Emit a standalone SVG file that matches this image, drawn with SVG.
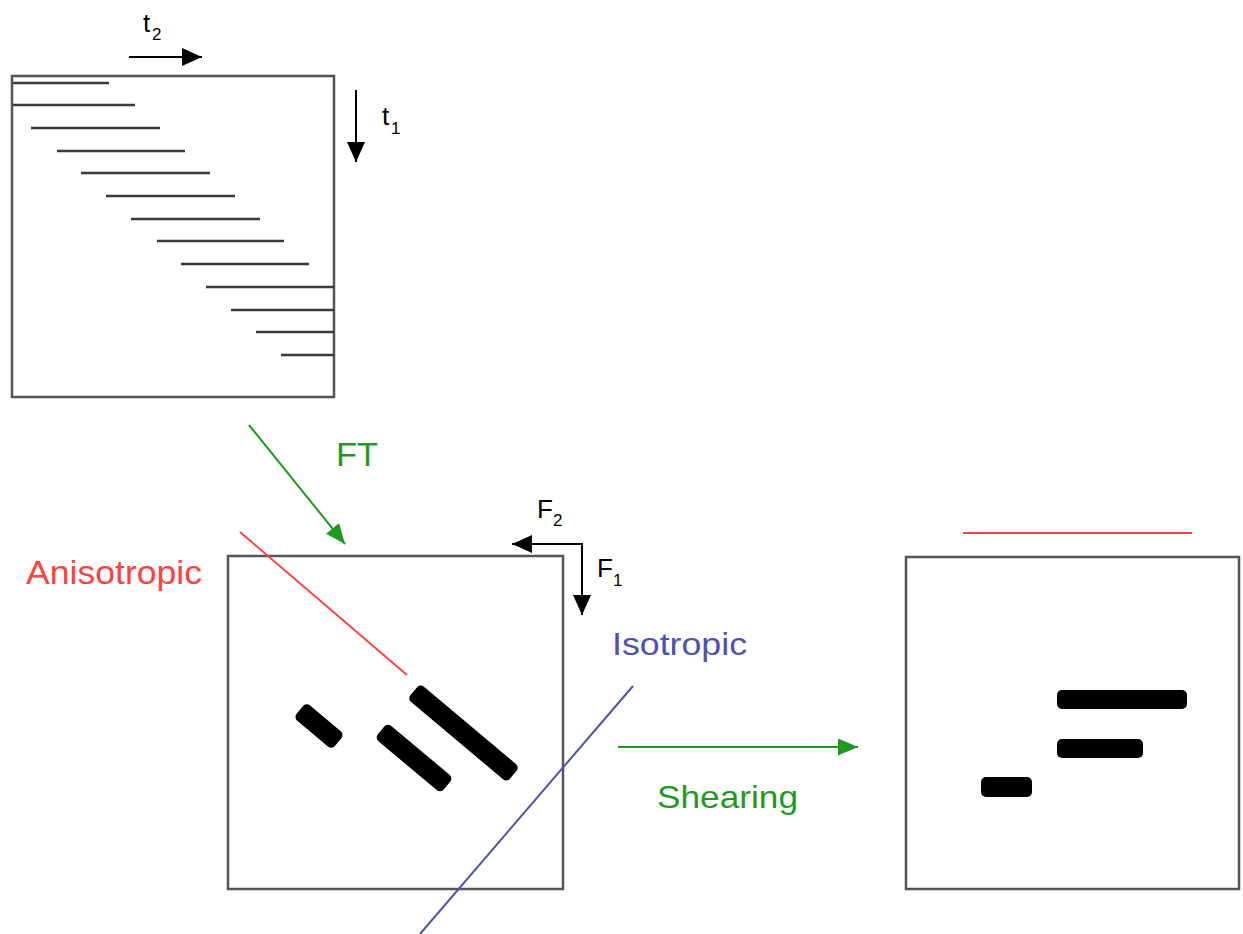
<svg xmlns="http://www.w3.org/2000/svg" width="1243" height="934" viewBox="0 0 1243 934">
<defs>
<style>
.box{fill:none;stroke:#555;stroke-width:2.5}
.hl{stroke:#3a3a3a;stroke-width:2.3}
.blk{stroke:#000;stroke-width:2;fill:none}
.grn{stroke:#1f9a1f;stroke-width:2;fill:none}
.bar{fill:#000}
text{font-family:"Liberation Sans",Arial,sans-serif}
.lbl{font-size:26px;fill:#000}
.sub{font-size:17px;fill:#000}
</style>
<marker id="ab" markerUnits="userSpaceOnUse" markerWidth="20" markerHeight="18" refX="20" refY="9" orient="auto"><path d="M0,0 L20,9 L0,18 z" fill="#000"/></marker>
<marker id="ag" markerUnits="userSpaceOnUse" markerWidth="20" markerHeight="17" refX="20" refY="8.5" orient="auto"><path d="M0,0 L20,8.5 L0,17 z" fill="#1f9a1f"/></marker>
</defs>
<rect width="1243" height="934" fill="#fff"/>

<g id="time-domain">
<rect class="box" x="12" y="76" width="322" height="321"/>
<line class="hl" x1="13" y1="83" x2="109" y2="83"/>
<line class="hl" x1="13" y1="105" x2="135" y2="105"/>
<line class="hl" x1="31" y1="128" x2="160" y2="128"/>
<line class="hl" x1="57" y1="151" x2="185" y2="151"/>
<line class="hl" x1="81" y1="173" x2="210" y2="173"/>
<line class="hl" x1="106" y1="196" x2="235" y2="196"/>
<line class="hl" x1="131" y1="219" x2="260" y2="219"/>
<line class="hl" x1="157" y1="241" x2="284" y2="241"/>
<line class="hl" x1="181" y1="264" x2="309" y2="264"/>
<line class="hl" x1="206" y1="287" x2="334" y2="287"/>
<line class="hl" x1="231" y1="310" x2="334" y2="310"/>
<line class="hl" x1="256" y1="332" x2="334" y2="332"/>
<line class="hl" x1="281" y1="355" x2="334" y2="355"/>
<line class="blk" x1="129" y1="57" x2="202" y2="57" marker-end="url(#ab)"/>
<line class="blk" x1="356" y1="90" x2="356" y2="162" marker-end="url(#ab)"/>
<text class="lbl" x="143" y="32">t</text><text class="sub" x="152" y="40">2</text>
<text class="lbl" x="382" y="125">t</text><text class="sub" x="391" y="134">1</text>
</g>

<g id="freq-domain">
<rect class="box" x="228" y="556" width="335" height="333"/>
<line x1="240" y1="532" x2="407" y2="675" stroke="#ff4040" stroke-width="2"/>
<rect class="bar" x="-25" y="-10" width="50" height="20" rx="5" transform="translate(319,726) rotate(40)"/>
<rect class="bar" x="-43" y="-10" width="86" height="20" rx="5" transform="translate(414,758) rotate(40)"/>
<rect class="bar" x="-65" y="-10" width="130" height="20" rx="5" transform="translate(463.5,733) rotate(40)"/>
<line x1="633" y1="686" x2="420" y2="934" stroke="#5050b0" stroke-width="2"/>
<line class="blk" x1="583" y1="544" x2="512" y2="544" marker-end="url(#ab)"/>
<line class="blk" x1="582" y1="543" x2="582" y2="615" marker-end="url(#ab)"/>
<text class="lbl" x="537" y="518">F</text><text class="sub" x="553" y="526">2</text>
<text class="lbl" x="597" y="577">F</text><text class="sub" x="613" y="586">1</text>
<text x="26" y="584" font-size="34" textLength="176" lengthAdjust="spacingAndGlyphs" fill="#ff4040">Anisotropic</text>
<text x="612" y="655" font-size="32" textLength="135" lengthAdjust="spacingAndGlyphs" fill="#5050b0">Isotropic</text>
</g>

<g id="sheared">
<rect class="box" x="906" y="557" width="333" height="332"/>
<line x1="963" y1="533" x2="1192" y2="533" stroke="#ff4040" stroke-width="2"/>
<rect class="bar" x="1057" y="690" width="130" height="19" rx="5"/>
<rect class="bar" x="1057" y="739" width="86" height="19" rx="5"/>
<rect class="bar" x="981" y="777" width="51" height="20" rx="5"/>
</g>

<g id="connectors">
<line class="grn" x1="249" y1="425" x2="345" y2="544" marker-end="url(#ag)"/>
<text x="336" y="466" font-size="33" textLength="42" lengthAdjust="spacingAndGlyphs" fill="#1f9a1f">FT</text>
<line class="grn" x1="618" y1="747" x2="858" y2="747" marker-end="url(#ag)"/>
<text x="657" y="808" font-size="32" textLength="141" lengthAdjust="spacingAndGlyphs" fill="#1f9a1f">Shearing</text>
</g>
</svg>
